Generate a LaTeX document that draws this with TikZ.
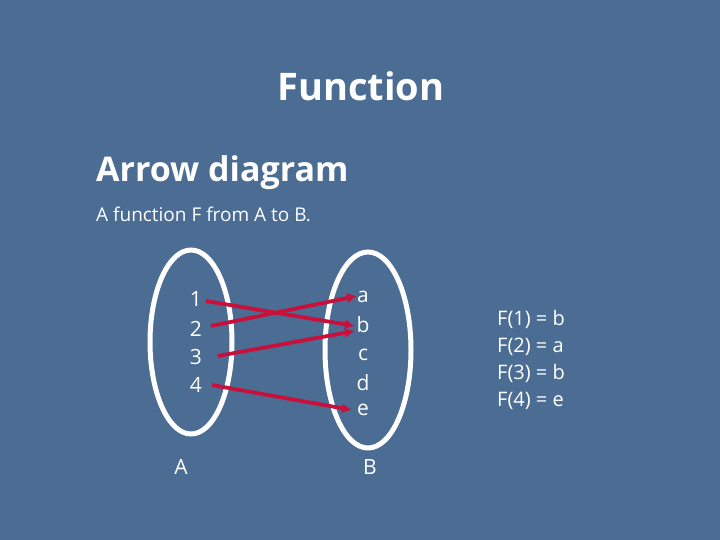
\documentclass[tikz,border=0pt]{standalone}
\usepackage{fontspec}
\setmainfont{Open Sans}
\definecolor{bg}{HTML}{4B6C93}
\definecolor{arr}{HTML}{C8103A}
\usetikzlibrary{arrows.meta}
\tikzset{x=1pt,y=-1pt,
 lbl/.style={text=white,font=\fontsize{21}{21}\selectfont,inner sep=0pt},
 set/.style={draw=white,line width=5pt},
 map/.style={draw=arr,line width=3.8pt,-{Latex[length=10pt,width=10pt]}}}
\begin{document}
\begin{tikzpicture}
\fill[bg] (0,0) rectangle (720,540);
\useasboundingbox (0,0) rectangle (720,540);
\node[text=white,font=\bfseries\fontsize{38}{38}\selectfont] (t) at (361,86) {Function};
\node[text=white,font=\bfseries\fontsize{34}{34}\selectfont,anchor=west,inner sep=0pt] (h) at (96,173) {Arrow diagram};
\node[text=white,font=\fontsize{19}{19}\selectfont,anchor=west,inner sep=0pt] (s) at (96,214) {A function F from A to B.};
\draw[set] (191,342) ellipse [x radius=41, y radius=92];
\draw[set] (368,350) ellipse [x radius=43, y radius=98];
\node[lbl] (n1) at (196,299) {1};
\node[lbl] (n2) at (196,329) {2};
\node[lbl] (n3) at (196,357) {3};
\node[lbl] (n4) at (196,385) {4};
\node[lbl] (la) at (363,297) {a};
\node[lbl] (lb) at (363,325) {b};
\node[lbl] (lc) at (363,355) {c};
\node[lbl] (ld) at (363,383) {d};
\node[lbl] (le) at (363,410) {e};
\node[lbl] (A) at (181,467) {A};
\node[lbl] (B) at (370,467) {B};
\draw[map] (206,301) -- (355,326);
\draw[map] (211,326) -- (357,296);
\draw[map] (218,356) -- (355,331);
\draw[map] (212,385) -- (352,410);
\node[text=white,font=\fontsize{20}{27}\selectfont,align=left,anchor=north west,inner sep=0pt] (f) at (497,310) {F(1) = b\\F(2) = a\\F(3) = b\\F(4) = e};
\end{tikzpicture}
\end{document}
